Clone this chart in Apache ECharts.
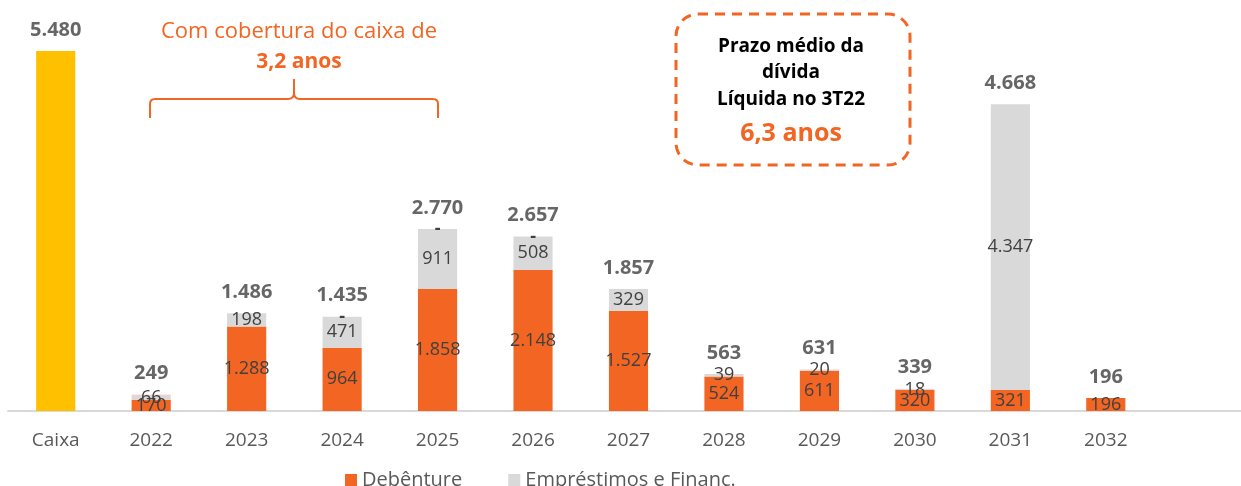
<!DOCTYPE html>
<html>
<head>
<meta charset="utf-8">
<script src="https://cdn.jsdelivr.net/npm/echarts@6/dist/echarts.min.js"></script>
<style>
  html, body { margin: 0; padding: 0; background: #fff; }
  #chart { width: 1241px; height: 486px; }
</style>
</head>
<body>
<div id="chart"></div>
<script>
// categorias (o último slot fica vazio, como no original)
var categories = ["Caixa", "2022", "2023", "2024", "2025", "2026", "2027", "2028", "2029", "2030", "2031", "2032", ""];
var caixa = [5480, null, null, null, null, null, null, null, null, null, null, null, null];
var debenture = [null, 170, 1288, 964, 1858, 2148, 1527, 524, 611, 320, 321, 196, null];
var emprestimos = [null, 66, 198, 471, 911, 508, 329, 39, 20, 18, 4347, null, null];
var outros = [null, 13, 0, 0, 0, 0, 0, 0, 0, 0, 0, 0, null];
var outrosLabels = ["", "", "", "-", "-", "-", "", "", "", "", "", "", ""];
var totals = [5480, 249, 1486, 1435, 2770, 2657, 1857, 563, 631, 339, 4668, 196, null];

var ORANGE = "#F26522";
var GREY = "#D9D9D9";
var YELLOW = "#FFC000";
var FONT = "'Open Sans', 'Noto Sans', sans-serif";

function fmt(v) {
  return String(v).replace(/\B(?=(\d{3})+(?!\d))/g, ".");
}

var chart = echarts.init(document.getElementById("chart"));

var innerLabel = {
  show: true,
  position: "inside",
  color: "#404040",
  fontFamily: FONT,
  fontSize: 18,
  formatter: function (p) { return fmt(p.value); }
};

function txt(x, y, s, font, color) {
  return {
    type: "text",
    style: {
      x: x, y: y, text: s, fill: color, font: font,
      textAlign: "center", textVerticalAlign: "middle"
    }
  };
}

var braceStyle = { fill: null, stroke: ORANGE, lineWidth: 2 };
function seg(x1, y1, x2, y2) {
  return { type: "line", shape: { x1: x1, y1: y1, x2: x2, y2: y2 }, style: braceStyle };
}
function curve(x1, y1, cx, cy, x2, y2) {
  return { type: "bezierCurve", shape: { x1: x1, y1: y1, cpx1: cx, cpy1: cy, x2: x2, y2: y2 }, style: braceStyle };
}

var option = {
  animation: false,
  textStyle: { fontFamily: FONT },
  grid: { left: 8, width: 1241, top: 16.8, bottom: 75, outerBoundsMode: "none", containLabel: false },
  legend: {
    left: 340,
    top: 465,
    itemWidth: 12,
    itemHeight: 12,
    itemGap: 46,
    icon: "rect",
    textStyle: { fontSize: 20, color: "#595959", fontFamily: FONT },
    data: ["Debênture", "Empréstimos e Financ."]
  },
  xAxis: {
    type: "category",
    data: categories,
    axisLine: { lineStyle: { color: "#D9D9D9", width: 2 } },
    axisTick: { show: false },
    axisLabel: { color: "#595959", fontSize: 19, margin: 20, fontFamily: FONT }
  },
  yAxis: {
    type: "value",
    min: 0,
    max: 6000,
    show: false,
    splitLine: { show: false }
  },
  series: [
    {
      name: "Caixa",
      type: "bar",
      stack: "a",
      barWidth: "41%",
      data: caixa,
      itemStyle: { color: YELLOW }
    },
    {
      name: "Debênture",
      type: "bar",
      stack: "a",
      data: debenture,
      itemStyle: { color: ORANGE },
      label: innerLabel
    },
    {
      name: "Empréstimos e Financ.",
      type: "bar",
      stack: "a",
      data: emprestimos,
      itemStyle: { color: GREY },
      label: innerLabel
    },
    {
      name: "Outros",
      type: "bar",
      stack: "a",
      data: outros,
      itemStyle: { color: "#F4B6B6" },
      label: {
        show: true,
        position: "inside",
        color: "#404040",
        fontSize: 18,
        fontWeight: "bold",
        formatter: function (p) { return outrosLabels[p.dataIndex]; }
      }
    },
    {
      name: "Total",
      type: "scatter",
      data: totals,
      symbolSize: 0,
      label: {
        show: true,
        position: "top",
        distance: 11,
        color: "#404040",
        fontSize: 20,
        fontWeight: "bold",
        fontFamily: FONT,
        formatter: function (p) { return fmt(p.value); }
      }
    }
  ],
  graphic: [
    txt(299, 32, "Com cobertura do caixa de", "22px " + FONT, ORANGE),
    txt(299, 62, "3,2 anos", "bold 21px " + FONT, ORANGE),
    // chave
    seg(150, 118, 150, 104),
    curve(150, 104, 150, 99, 155, 99),
    seg(155, 99, 288, 99),
    curve(288, 99, 294, 99, 294, 93),
    seg(294, 93, 294, 79),
    curve(294, 93, 294, 99, 300, 99),
    seg(300, 99, 433, 99),
    curve(433, 99, 438, 99, 438, 104),
    seg(438, 104, 438, 118),
    {
      type: "rect",
      shape: { x: 676, y: 14, width: 234, height: 151, r: 22 },
      style: { fill: null, stroke: ORANGE, lineWidth: 3, lineDash: [10, 7] }
    },
    txt(791, 47, "Prazo médio da", "bold 19px " + FONT, "#000"),
    txt(791, 73, "dívida", "bold 19px " + FONT, "#000"),
    txt(791, 100, "Líquida no 3T22", "bold 19px " + FONT, "#000"),
    txt(791, 134, "6,3 anos", "bold 25px " + FONT, ORANGE)
  ]
};

chart.setOption(option);
</script>
</body>
</html>
